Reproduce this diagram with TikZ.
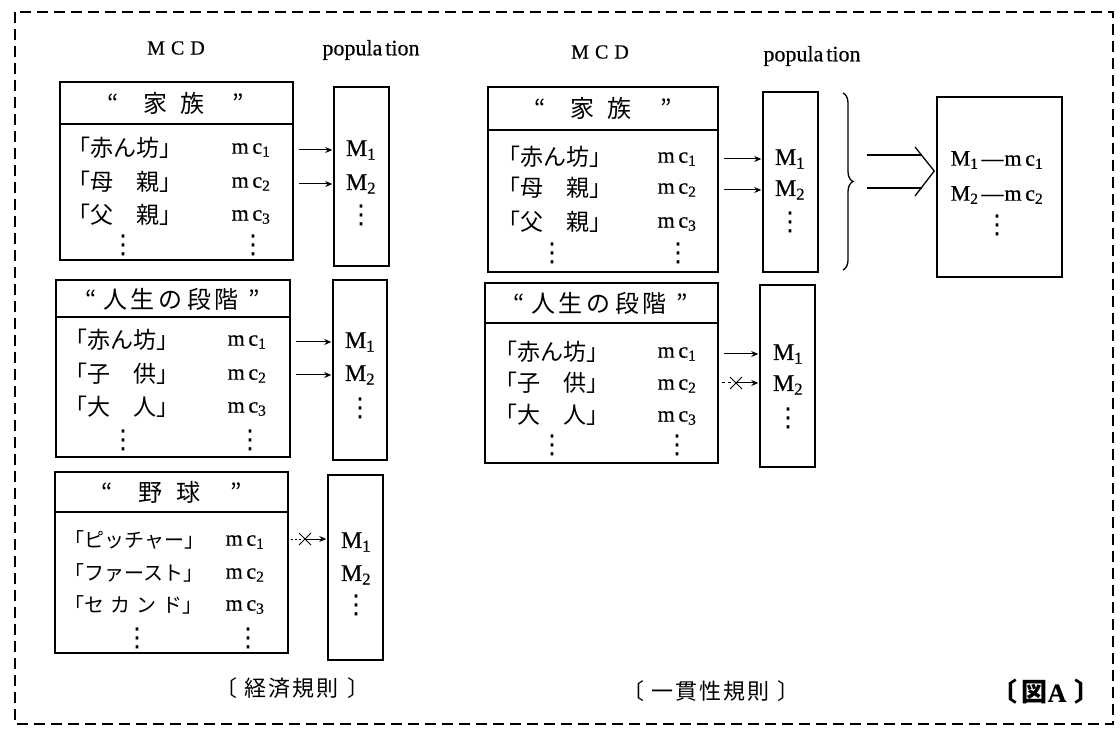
\documentclass[tikz,border=0pt]{standalone}
\usepackage{fontspec}
\setmainfont{Liberation Serif}[FakeBold=0.5]
\newfontfamily\jp{Noto Sans CJK JP}[RawFeature=+halt]
\newfontfamily\dv{DejaVu Sans}
\usetikzlibrary{arrows.meta,decorations.pathreplacing}
\newcommand{\myvdots}{{\dv\fontsize{26}{28}\selectfont ⋮}}
\newcommand{\mcx}[1]{m\,c\textsubscript{#1}}
\newcommand{\Mx}[1]{M\textsubscript{#1}}
\begin{document}
\begin{tikzpicture}[x=1pt,y=-1pt,
  box/.style={draw, line width=1.5pt, inner sep=0pt},
  jpt/.style={font=\jp\fontsize{23}{26}\selectfont, inner sep=0pt},
  jps/.style={font=\jp\fontsize{20}{23}\selectfont, inner sep=0pt},
  jph/.style={font=\jp\fontsize{24}{27}\selectfont, inner sep=0pt},
  jpc/.style={font=\jp\fontsize{22}{25}\selectfont, inner sep=0pt},
  lat/.style={font=\fontsize{20}{24}\selectfont, inner sep=0pt},
  mct/.style={font=\fontsize{22}{26}\selectfont, inner sep=0pt},
  mmt/.style={font=\fontsize{24}{28}\selectfont, inner sep=0pt},
  dts/.style={inner sep=0pt},
  arr/.style={line width=1pt, -{Stealth[length=7pt,width=6pt]}, shorten <=5pt, shorten >=1pt},
  hl/.style={line width=1.5pt},
  xmark/.style={line width=1pt}]
\useasboundingbox (0,0) rectangle (1120,735);
% border
\draw[line width=1.3pt, dash pattern=on 11pt off 6pt] (15,12) rectangle (1113,724);

% ===== left column =====
\node[lat] (mcdL) at (176,48) {M\hspace{6pt}C\hspace{6pt}D};
\node[mct] (popL) at (371,50) {popula\hspace{3pt}tion};

% box 1
\node[box, minimum width=233pt, minimum height=178pt] (b1) at (176.5,171) {};
\coordinate (h1) at (0,124);
\draw[hl] (b1.west |- h1) -- (b1.east |- h1);
\node[jph] (t1) at (176,103) {“\hspace{24pt}家\hspace{14pt}族\hspace{28pt}”};
\node[jpt, anchor=west] (r11) at (79,148) {「赤ん坊」};
\node[jpt, anchor=west] (r12) at (79,182) {「母　親」};
\node[jpt, anchor=west] (r13) at (79,215) {「父　親」};
\node[dts] (r14) at (123,245) {\myvdots};
\node[mct] (c11) at (251,150) {\mcx{1}};
\node[mct] (c12) at (251,184) {\mcx{2}};
\node[mct] (c13) at (251,217) {\mcx{3}};
\node[dts] (c14) at (253,245) {\myvdots};
\node[box, minimum width=55pt, minimum height=179pt] (p1) at (361.5,176.5) {};
\node[mmt] (m11) at (361,150) {\Mx{1}};
\node[mmt] (m12) at (361,184) {\Mx{2}};
\node[dts] (m13) at (361,215) {\myvdots};
\draw[arr] (b1.east |- m11) -- (p1.west |- m11);
\draw[arr] (b1.east |- m12) -- (p1.west |- m12);

% box 2
\node[box, minimum width=234pt, minimum height=177pt] (b2) at (173,368.5) {};
\coordinate (h2) at (0,317);
\draw[hl] (b2.west |- h2) -- (b2.east |- h2);
\node[jph] (t2) at (173,299) {“\hspace{6pt}人\hspace{4pt}生\hspace{4pt}の\hspace{4pt}段\hspace{4pt}階\hspace{10pt}”};
\node[jpt, anchor=west] (r21) at (76,340) {「赤ん坊」};
\node[jpt, anchor=west] (r22) at (76,374) {「子　供」};
\node[jpt, anchor=west] (r23) at (76,407) {「大　人」};
\node[dts] (r24) at (123,440) {\myvdots};
\node[mct] (c21) at (247,342) {\mcx{1}};
\node[mct] (c22) at (247,376) {\mcx{2}};
\node[mct] (c23) at (247,409) {\mcx{3}};
\node[dts] (c24) at (250,440) {\myvdots};
\node[box, minimum width=54pt, minimum height=180pt] (p2) at (360,370) {};
\node[mmt] (m21) at (360,342) {\Mx{1}};
\node[mmt] (m22) at (360,375) {\Mx{2}};
\node[dts] (m23) at (360,408) {\myvdots};
\draw[arr] (b2.east |- m21) -- (p2.west |- m21);
\draw[arr] (b2.east |- m22) -- (p2.west |- m22);

% box 3
\node[box, minimum width=233pt, minimum height=181pt] (b3) at (171.5,562.5) {};
\coordinate (h3) at (0,512);
\draw[hl] (b3.west |- h3) -- (b3.east |- h3);
\node[jph] (t3) at (172,492) {“\hspace{26pt}野\hspace{14pt}球\hspace{30pt}”};
\node[jps, anchor=west] (r31) at (74,540) {「ピッチャー」};
\node[jps, anchor=west] (r32) at (74,573) {「ファースト」};
\node[jps, anchor=west] (r33) at (74,605) {「セ\hspace{6pt}カ\hspace{6pt}ン\hspace{6pt}ド」};
\node[dts] (r34) at (137,638) {\myvdots};
\node[mct] (c31) at (245,542) {\mcx{1}};
\node[mct] (c32) at (245,575) {\mcx{2}};
\node[mct] (c33) at (245,607) {\mcx{3}};
\node[dts] (c34) at (248,638) {\myvdots};
\node[box, minimum width=55pt, minimum height=185pt] (p3) at (355.5,567.5) {};
\node[mmt] (m31) at (356,542) {\Mx{1}};
\node[mmt] (m32) at (356,575) {\Mx{2}};
\node[dts] (m33) at (356,605) {\myvdots};
\coordinate (x3) at (305,539);
\draw[line width=1pt, dash pattern=on 2pt off 2pt] (b3.east |- x3) ++(2,0) -- ++(11,0);
\draw[xmark] (x3) +(-6,-6) -- +(6,6) (x3) +(-6,6) -- +(6,-6);
\draw[line width=1pt, -{Stealth[length=7pt,width=6pt]}, shorten >=1pt] (x3) -- (p3.west |- x3);

\node[jpc] (capL) at (292,688) {〔\hspace{8pt}経\hspace{2pt}済\hspace{2pt}規\hspace{2pt}則\hspace{8pt}〕};

% ===== right column =====
\node[lat] (mcdR) at (600,52) {M\hspace{6pt}C\hspace{6pt}D};
\node[mct] (popR) at (812,56) {popula\hspace{3pt}tion};

% box 4
\node[box, minimum width=230pt, minimum height=185pt] (b4) at (603,179.5) {};
\coordinate (h4) at (0,130);
\draw[hl] (b4.west |- h4) -- (b4.east |- h4);
\node[jph] (t4) at (603,108) {“\hspace{24pt}家\hspace{14pt}族\hspace{28pt}”};
\node[jpt, anchor=west] (r41) at (509,157) {「赤ん坊」};
\node[jpt, anchor=west] (r42) at (509,188) {「母　親」};
\node[jpt, anchor=west] (r43) at (509,222) {「父　親」};
\node[dts] (r44) at (552,253) {\myvdots};
\node[mct] (c41) at (677,159) {\mcx{1}};
\node[mct] (c42) at (677,190) {\mcx{2}};
\node[mct] (c43) at (677,224) {\mcx{3}};
\node[dts] (c44) at (678,253) {\myvdots};
\node[box, minimum width=55pt, minimum height=180pt] (p4) at (790.5,182) {};
\node[mmt] (m41) at (790,159) {\Mx{1}};
\node[mmt] (m42) at (790,190) {\Mx{2}};
\node[dts] (m43) at (790,222) {\myvdots};
\draw[arr] (b4.east |- m41) -- (p4.west |- m41);
\draw[arr] (b4.east |- m42) -- (p4.west |- m42);

% brace and double arrows
\coordinate (br1) at (843,93);
\coordinate (br2) at (843,270);
\draw[line width=1.3pt, decorate, decoration={brace, amplitude=10pt}] (br1) -- (br2);
\node[box, minimum width=125pt, minimum height=180pt] (res) at (999.5,187) {};
\coordinate (da1) at (867,155);
\coordinate (da2) at (867,188);
\coordinate (tip) at (res.west |- 0,171);
\draw[line width=1.3pt] (da1) -- (922,155);
\draw[line width=1.3pt] (da2) -- (922,188);
\draw[line width=1.3pt, line join=miter] (915,147) -- ([xshift=-2pt]tip) -- (915,196);
\node[mct] (res1) at (997,160) {\Mx{1}\hspace{3pt}—\hspace{1pt}\mcx{1}};
\node[mct] (res2) at (997,195) {\Mx{2}\hspace{3pt}—\hspace{1pt}\mcx{2}};
\node[dts] (res3) at (997,225) {\myvdots};

% box 5
\node[box, minimum width=233pt, minimum height=180pt] (b5) at (601.5,373) {};
\coordinate (h5) at (0,323);
\draw[hl] (b5.west |- h5) -- (b5.east |- h5);
\node[jph] (t5) at (601,303) {“\hspace{6pt}人\hspace{4pt}生\hspace{4pt}の\hspace{4pt}段\hspace{4pt}階\hspace{10pt}”};
\node[jpt, anchor=west] (r51) at (506,352) {「赤ん坊」};
\node[jpt, anchor=west] (r52) at (506,383) {「子　供」};
\node[jpt, anchor=west] (r53) at (506,415) {「大　人」};
\node[dts] (r54) at (552,445) {\myvdots};
\node[mct] (c51) at (677,354) {\mcx{1}};
\node[mct] (c52) at (677,386) {\mcx{2}};
\node[mct] (c53) at (677,418) {\mcx{3}};
\node[dts] (c54) at (677,445) {\myvdots};
\node[box, minimum width=55pt, minimum height=182pt] (p5) at (787.5,376) {};
\node[mmt] (m51) at (788,354) {\Mx{1}};
\node[mmt] (m52) at (788,385) {\Mx{2}};
\node[dts] (m53) at (788,418) {\myvdots};
\draw[arr] (b5.east |- m51) -- (p5.west |- m51);
\coordinate (x5) at (736,383);
\draw[line width=1pt, dash pattern=on 3pt off 3pt] (b5.east |- x5) ++(3,0) -- ++(10,0);
\draw[xmark] (x5) +(-6,-6) -- +(6,6) (x5) +(-6,6) -- +(6,-6);
\draw[line width=1pt, -{Stealth[length=7pt,width=6pt]}, shorten >=1pt] (x5) -- (p5.west |- x5);

\node[jpc] (capR) at (711,691) {〔\hspace{8pt}一\hspace{2pt}貫\hspace{2pt}性\hspace{2pt}規\hspace{2pt}則\hspace{8pt}〕};
\node[font=\fontsize{26}{30}\selectfont\bfseries, inner sep=0pt] (fig) at (1046,692) {{\jp〔\hspace{4pt}図}A\hspace{8pt}{\jp〕}};
\end{tikzpicture}
\end{document}
